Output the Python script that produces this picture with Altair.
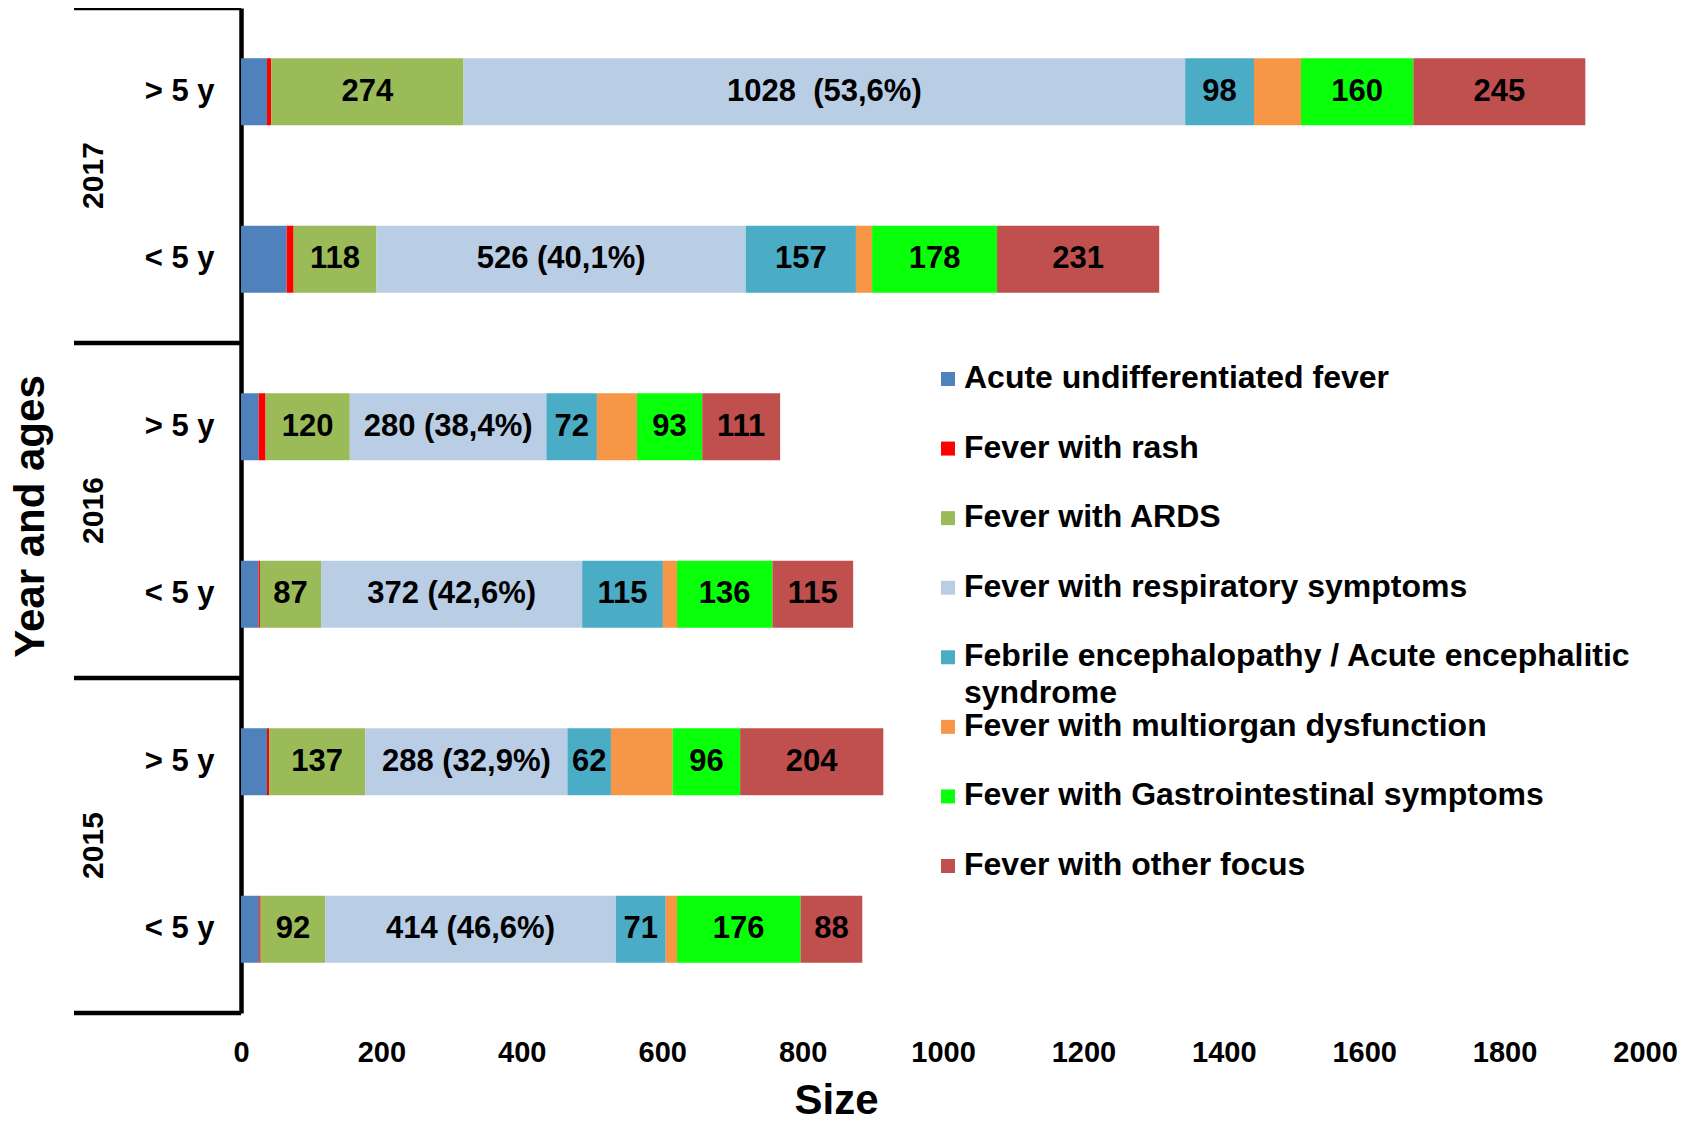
import altair as alt
import pandas as pd

FONT = "Liberation Sans, Arial"

years = ["2017", "2016", "2015"]
ages = ["> 5 y", "< 5 y"]
row_keys = [f"{y}|{a}" for y in years for a in ages]

categories = [
    "Acute undifferentiated fever",
    "Fever with rash",
    "Fever with ARDS",
    "Fever with respiratory symptoms",
    "Febrile encephalopathy / Acute encephalitic syndrome",
    "Fever with multiorgan dysfunction",
    "Fever with Gastrointestinal symptoms",
    "Fever with other focus",
]
legend_labels = [
    "Acute undifferentiated fever",
    "Fever with rash",
    "Fever with ARDS",
    "Fever with respiratory symptoms",
    "Febrile encephalopathy / Acute encephalitic\nsyndrome",
    "Fever with multiorgan dysfunction",
    "Fever with Gastrointestinal symptoms",
    "Fever with other focus",
]
colors = ["#4F81BD", "#FF0000", "#9BBB59", "#B9CDE5",
          "#4BACC6", "#F79646", "#0AFF0A", "#C0504D"]

# rows: 2017 >5y, 2017 <5y, 2016 >5y, 2016 <5y, 2015 >5y, 2015 <5y
acute = [37, 65, 25, 25, 37, 26]
rash = [6, 10, 10, 2, 3, 2]
ards = [274, 118, 120, 87, 137, 92]
resp = [1028, 526, 280, 372, 288, 414]
enceph = [98, 157, 72, 115, 62, 71]
multi = [67, 23, 57, 20, 88, 16]
gi = [160, 178, 93, 136, 96, 176]
other = [245, 231, 111, 115, 204, 88]
resp_pct = ["(53,6%)", "(40,1%)", "(38,4%)", "(42,6%)", "(32,9%)", "(46,6%)"]
labeled = [False, False, True, True, True, False, True, True]

x_ticks = list(range(0, 2001, 200))

series = [acute, rash, ards, resp, enceph, multi, gi, other]
rows = []
for i, key in enumerate(row_keys):
    for j, cat in enumerate(categories):
        v = series[j][i]
        if not labeled[j]:
            lab = ""
        elif j == 3:
            lab = f"{v}\u00a0 {resp_pct[i]}" if i == 0 else f"{v} {resp_pct[i]}"
        else:
            lab = str(v)
        rows.append({"key": key, "cat": cat, "idx": j, "value": v, "label": lab})
df = pd.DataFrame(rows)

years_df = pd.DataFrame({"year": years, "key": [row_keys[0], row_keys[2], row_keys[4]]})
sep_df = pd.DataFrame({"key": [row_keys[0], row_keys[2], row_keys[4]]})
bottom_df = pd.DataFrame({"key": [row_keys[5]]})
leg_df = pd.DataFrame({"cat": categories, "legend": legend_labels})

y_scale = alt.Scale(domain=row_keys, paddingInner=0, paddingOuter=0)
y_axis = alt.Axis(
    labelExpr="split(datum.label, '|')[1]",
    ticks=False, domain=True, domainColor="black", domainWidth=4.5,
    labelFont=FONT, labelFontSize=31, labelFontWeight="bold", labelColor="black",
    labelPadding=27,
    titleFont=FONT, titleFontSize=42, titleFontWeight="bold", titleColor="black",
    titleX=-189, titleY=508, titleAngle=270, titleBaseline="bottom", titleAlign="center",
)
x_scale = alt.Scale(domain=[0, 2000], nice=False)
x_axis = alt.Axis(
    values=x_ticks, format="d", grid=False, ticks=False, domain=False,
    labelFlush=False,
    labelFont=FONT, labelFontSize=29, labelFontWeight="bold", labelColor="black",
    labelPadding=25,
    titleFont=FONT, titleFontSize=42, titleFontWeight="bold", titleColor="black",
    titleX=595, titleY=67, titleBaseline="top",
)
color_scale = alt.Scale(domain=categories, range=colors)

def yenc(**kw):
    return alt.Y("key:N", scale=y_scale, axis=y_axis, title="Year and ages", **kw)

bars = alt.Chart(df).mark_bar(height={"band": 0.40}).encode(
    x=alt.X("value:Q", stack="zero", scale=x_scale, axis=x_axis, title="Size"),
    y=yenc(),
    color=alt.Color("cat:N", scale=color_scale, legend=None),
    order=alt.Order("idx:Q"),
)

labels = alt.Chart(df).transform_stack(
    stack="value", groupby=["key"], as_=["x0", "x1"], sort=[alt.SortField("idx")]
).transform_calculate(
    mid="(datum.x0 + datum.x1) / 2"
).transform_filter("datum.label != ''").mark_text(
    font=FONT, fontSize=31, fontWeight="bold", color="black"
).encode(
    x=alt.X("mid:Q", scale=x_scale, axis=x_axis, title="Size"),
    y=yenc(),
    text="label:N",
)

year_text = alt.Chart(years_df).mark_text(
    font=FONT, fontSize=30, fontWeight="bold", color="black",
    angle=270, align="center", baseline="middle"
).encode(
    y=yenc(bandPosition=1),
    x=alt.value(-147),
    text="year:N",
)

seps = alt.Chart(sep_df).mark_rule(color="black", strokeWidth=4.5).encode(
    y=yenc(bandPosition=0),
    x=alt.value(-167), x2=alt.value(0),
)
bottom_sep = alt.Chart(bottom_df).mark_rule(color="black", strokeWidth=4.5).encode(
    y=yenc(bandPosition=1),
    x=alt.value(-167), x2=alt.value(0),
)

main = alt.layer(bars, labels, year_text, seps, bottom_sep)

leg_y = alt.Y("cat:N", scale=alt.Scale(type="point", domain=categories, range=[371, 858], padding=0), axis=None)
leg_sq = alt.Chart(leg_df).mark_square(size=196, opacity=1, filled=True).encode(
    y=leg_y, x=alt.value(707),
    color=alt.Color("cat:N", scale=color_scale, legend=None),
)
leg_txt = alt.Chart(leg_df).mark_text(
    font=FONT, fontSize=32, fontWeight="bold", color="black",
    align="left", baseline="top", dy=-16, lineBreak="\n", lineHeight=37,
).encode(
    y=leg_y, x=alt.value(723), text="legend:N",
)
legend = alt.layer(leg_sq, leg_txt)

chart = alt.layer(main, legend).resolve_scale(y="independent").properties(
    width=1404, height=1005,
    padding={"left": 233, "top": 0, "right": 45, "bottom": 101},
    autosize=alt.AutoSizeParams(type="none"),
).configure_view(stroke=None)

chart.save("out.html", embed_options={"renderer": "svg", "actions": False})
